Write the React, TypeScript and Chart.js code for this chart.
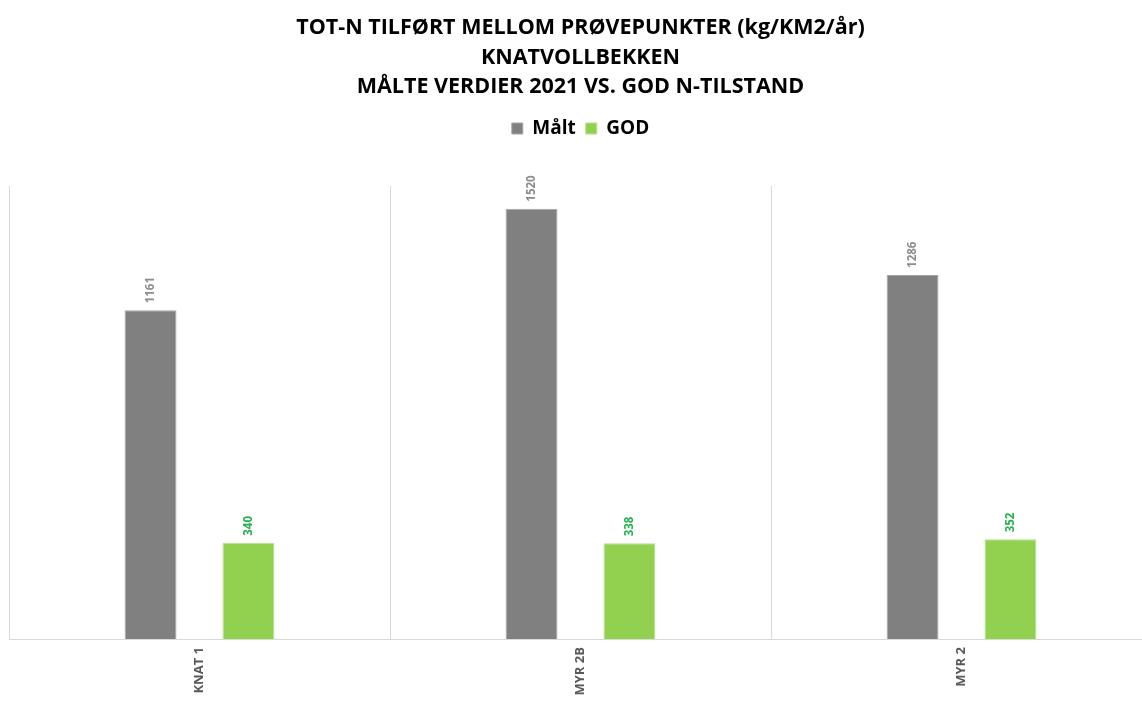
import React, { useEffect, useRef } from "react";
import { Chart, registerables } from "chart.js";

Chart.register(...registerables);

const categories = ["KNAT 1", "MYR 2B", "MYR 2"];
const maltValues = [1161, 1520, 1286];
const godValues = [340, 338, 352];
const titleLines = [
  "TOT-N TILFØRT MELLOM PRØVEPUNKTER (kg/KM2/år)",
  "KNATVOLLBEKKEN",
  "MÅLTE VERDIER 2021 VS. GOD N-TILSTAND",
];
const seriesNames = ["Målt", "GOD"];

const FONT = "'Open Sans', 'DejaVu Sans', sans-serif";

const valueLabelPlugin = {
  id: "valueLabels",
  afterDatasetsDraw(chart: any) {
    const ctx = chart.ctx;
    const colors = ["#8c8c8c", "#1fb24a"];
    chart.data.datasets.forEach((ds: any, di: number) => {
      const meta = chart.getDatasetMeta(di);
      meta.data.forEach((bar: any, i: number) => {
        ctx.save();
        ctx.translate(bar.x, bar.y - 7);
        ctx.rotate(-Math.PI / 2);
        ctx.font = `bold 11.5px ${FONT}`;
        ctx.fillStyle = colors[di];
        ctx.textAlign = "left";
        ctx.textBaseline = "middle";
        ctx.fillText(String(ds.data[i]), 0, 0);
        ctx.restore();
      });
    });
  },
};

const legendSpacingPlugin = {
  id: "legendSpacing",
  beforeInit(chart: any) {
    const legend = chart.legend;
    if (!legend) return;
    const origFit = legend.fit;
    legend.fit = function () {
      origFit.call(this);
      this.height += 38;
    };
  },
};

export default function App() {
  const ref = useRef<HTMLCanvasElement>(null);
  useEffect(() => {
    const chart = new Chart(ref.current!, {
      type: "bar",
      data: {
        labels: categories,
        datasets: [
          {
            label: seriesNames[0],
            data: maltValues,
            backgroundColor: "#808080",
            borderColor: "#a6a6a6",
            borderWidth: 1,
          },
          {
            label: seriesNames[1],
            data: godValues,
            backgroundColor: "#92d050",
            borderColor: "#b5e08a",
            borderWidth: 1,
          },
        ],
      },
      plugins: [legendSpacingPlugin, valueLabelPlugin],
      options: {
        responsive: false,
        animation: false,
        categoryPercentage: 0.514,
        barPercentage: 0.53,
        layout: { padding: { left: 9, right: 0, top: 9, bottom: 0 } },
        plugins: {
          title: {
            display: true,
            text: titleLines,
            color: "#000000",
            font: { family: FONT, size: 21.5, weight: "bold", lineHeight: 1.38 },
            padding: { top: 4, bottom: 7 },
          },
          legend: {
            display: true,
            labels: {
              color: "#000000",
              font: { family: FONT, size: 19, weight: "bold" },
              boxWidth: 11,
              boxHeight: 11,
              padding: 10,
            },
          },
          tooltip: { enabled: false },
        },
        scales: {
          x: {
            offset: true,
            afterFit(scale: any) {
              scale.height = 62;
            },
            grid: {
              display: true,
              offset: true,
              color: "#d9d9d9",
              drawTicks: false,
            },
            border: { display: true, color: "#d9d9d9" },
            ticks: {
              minRotation: 90,
              maxRotation: 90,
              color: "#595959",
              font: { family: FONT, size: 13, weight: "bold" },
              padding: 8,
            },
          },
          y: {
            display: false,
            min: 0,
            max: 1600,
          },
        },
      },
    } as any);
    return () => chart.destroy();
  }, []);
  return (
    <div style={{ position: "fixed", left: 0, top: 0, width: 1142, height: 701, overflow: "hidden", background: "#fff" }}>
      <canvas ref={ref} width={1152} height={701} style={{ width: 1152, height: 701 }} />
    </div>
  );
}
